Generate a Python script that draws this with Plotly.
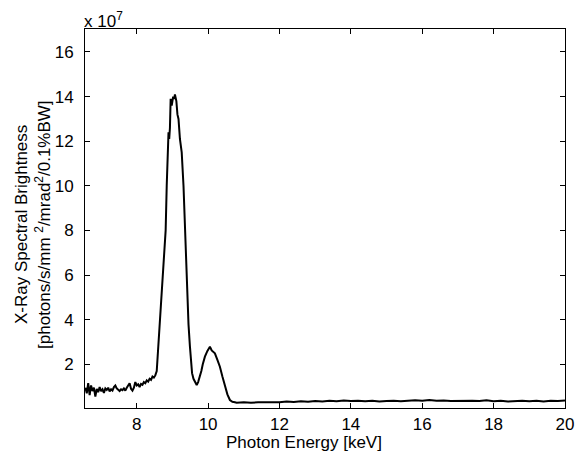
import plotly.graph_objects as go

# photon energy [keV] and brightness [x 1e7 photons/s/mm2/mrad2/0.1%BW]
low_energy = [6.56, 6.60, 6.64, 6.68, 6.72, 6.76, 6.80, 6.84, 6.88, 6.92,
              6.96, 7.00, 7.04, 7.08, 7.12, 7.16, 7.20, 7.24, 7.28, 7.32,
              7.36, 7.40, 7.44, 7.48, 7.52, 7.56, 7.60, 7.64, 7.68, 7.72,
              7.76, 7.80, 7.84, 7.88, 7.92, 7.96, 8.00, 8.04, 8.08, 8.12,
              8.16, 8.20, 8.24, 8.28, 8.32, 8.36, 8.40, 8.44, 8.48]
low_brightness = [0.95, 0.70, 1.15, 0.62, 1.05, 0.80, 0.95, 0.55, 0.90, 0.75,
                  0.98, 0.80, 0.88, 0.72, 0.92, 0.85, 0.95, 0.78, 0.88, 0.82,
                  0.98, 1.05, 0.92, 0.85, 0.80, 0.88, 0.84, 0.92, 0.82, 0.95,
                  1.05, 1.15, 0.90, 0.82, 0.95, 1.20, 1.05, 1.10, 0.98, 1.12,
                  1.08, 1.20, 1.15, 1.28, 1.22, 1.35, 1.30, 1.45, 1.40]

peak_energy = [8.52, 8.56, 8.60, 8.63, 8.67, 8.70, 8.75, 8.78, 8.81, 8.84,
               8.87, 8.89, 8.91, 8.93, 8.95, 8.98, 9.02, 9.05, 9.07, 9.09,
               9.11, 9.14, 9.17, 9.21, 9.26, 9.31, 9.35, 9.40, 9.45, 9.49,
               9.52, 9.55, 9.59, 9.62, 9.66, 9.68, 9.72, 9.77, 9.81, 9.85,
               9.91, 9.98, 10.02, 10.05, 10.10, 10.15, 10.19, 10.26, 10.33,
               10.40, 10.47, 10.54, 10.61, 10.68, 10.75]
peak_brightness = [1.50, 1.70, 2.70, 3.50, 4.30, 5.00, 6.50, 7.20, 8.00, 10.00,
                   11.20, 12.40, 12.10, 12.60, 13.90, 13.60, 14.00, 13.90, 14.10, 13.95,
                   13.80, 13.20, 13.00, 12.10, 11.50, 10.00, 8.00, 5.50, 3.80, 2.80,
                   2.00, 1.60, 1.35, 1.25, 1.15, 1.07, 1.20, 1.44, 1.70, 2.00,
                   2.34, 2.60, 2.70, 2.79, 2.62, 2.55, 2.49, 2.20, 1.89,
                   1.45, 0.99, 0.65, 0.40, 0.32, 0.30]

flat_energy = [10.8, 11.0, 11.2, 11.4, 11.6, 11.8, 12.0, 12.2, 12.4, 12.6,
               12.8, 13.0, 13.2, 13.4, 13.6, 13.8, 14.0, 14.2, 14.4, 14.6,
               14.8, 15.0, 15.2, 15.4, 15.6, 15.8, 16.0, 16.2, 16.4, 16.6,
               16.8, 17.0, 17.2, 17.4, 17.6, 17.8, 18.0, 18.2, 18.4, 18.6,
               18.8, 19.0, 19.2, 19.4, 19.6, 19.8, 20.0]
flat_brightness = [0.28, 0.30, 0.27, 0.30, 0.29, 0.31, 0.30, 0.33, 0.31, 0.34,
                   0.32, 0.35, 0.33, 0.36, 0.34, 0.38, 0.35, 0.37, 0.34, 0.36,
                   0.33, 0.35, 0.37, 0.34, 0.36, 0.39, 0.36, 0.40, 0.36, 0.38,
                   0.35, 0.36, 0.34, 0.37, 0.35, 0.39, 0.34, 0.36, 0.33, 0.35,
                   0.37, 0.34, 0.36, 0.33, 0.36, 0.35, 0.38]

x_ticks = [8, 10, 12, 14, 16, 18, 20]
y_ticks = [2, 4, 6, 8, 10, 12, 14, 16]

energy = low_energy + peak_energy + flat_energy
brightness = low_brightness + peak_brightness + flat_brightness

FONT = dict(family='Liberation Sans, Arial', size=17, color='black')

fig = go.Figure()
fig.add_trace(go.Scatter(x=energy, y=brightness, mode='lines',
    line=dict(color='black', width=2), showlegend=False))

axis_style = dict(showline=True, linecolor='black', linewidth=1, mirror='ticks',
    ticks='inside', ticklen=5, tickcolor='black', showgrid=False, zeroline=False,
    tickfont=FONT)

fig.update_xaxes(range=[6.55, 20], tickvals=x_ticks, ticklabelstandoff=1,
    **axis_style)
fig.update_yaxes(range=[0.04, 17.03], tickvals=y_ticks, ticklabelstandoff=7,
    **axis_style)

# axis titles as annotations so they sit where the original has them
fig.add_annotation(text='Photon Energy [keV]', xref='paper', yref='paper',
    x=0.456, y=-0.092, xanchor='center', yanchor='middle', showarrow=False,
    font=FONT)
fig.add_annotation(text='X-Ray Spectral Brightness', xref='paper', yref='paper',
    x=-0.131, y=0.483, xanchor='center', yanchor='middle', textangle=-90,
    showarrow=False, font=FONT)
fig.add_annotation(text='[photons/s/mm <sup>2</sup>/mrad<sup>2</sup>/0.1%BW]',
    xref='paper', yref='paper', x=-0.0875, y=0.483, xanchor='center',
    yanchor='middle', textangle=-90, showarrow=False, font=FONT)
fig.add_annotation(text='x 10<sup>7</sup>', xref='paper', yref='paper',
    x=0, y=1.0, xanchor='left', yanchor='bottom', yshift=-4, xshift=-3,
    showarrow=False, font=FONT)

# page body has an 8px margin, so the figure is sized to fill the window after it
fig.update_layout(width=579, height=449, margin=dict(l=77, r=22, t=21, b=49),
    plot_bgcolor='white', paper_bgcolor='white')

fig.write_html("out.html")
